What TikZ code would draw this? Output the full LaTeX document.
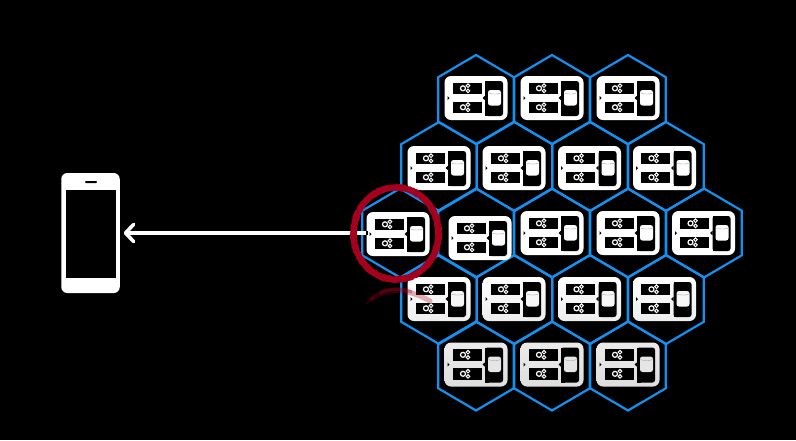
\documentclass[tikz,border=0pt]{standalone}
\usetikzlibrary{arrows.meta,decorations.pathmorphing,shapes.geometric}
\definecolor{hexblue}{RGB}{20,145,240}
\definecolor{ringred}{RGB}{165,0,30}
\tikzset{
  x=1pt,y=-1pt,
  hexcell/.style={draw=hexblue,line width=2.2pt,line join=miter},
  modbody/.style={draw=none,rounded corners=6.5pt,minimum width=63pt,minimum height=44pt,inner sep=0pt,outer sep=0pt},
  slot/.style={fill=black,draw=none},
  gearbig/.style={draw=white,line width=1.2pt,fill=none},
  gearsmall/.style={draw=white,line width=1pt,fill=none},
  flow/.style={draw=white,line width=3.6pt,-{Straight Barb[length=8pt,width=17pt,round]},shorten >=4pt},
  ringedge/.style={draw=ringred,line width=1.6pt,decorate,decoration={random steps,segment length=2pt,amplitude=0.5pt}},
}
\newcommand{\hexat}[2]{%
  \draw[hexcell] (#1,#2-44.5) -- (#1+37.8,#2-22.3) -- (#1+37.8,#2+22.3) -- (#1,#2+44.5) -- (#1-37.8,#2+22.3) -- (#1-37.8,#2-22.3) -- cycle;}
% name, x, y, body style, cylinder colour
\newcommand{\modat}[5]{%
  \node[modbody,#4] (#1) at (#2,#3) {};
  \begin{scope}[shift={(#2,#3)}]
    \fill[slot] (-23.5,-15.5) rectangle (5.5,-4);
    \fill[slot] (-23.5,3.5) rectangle (5.5,15);
    \fill[slot,rounded corners=2.5pt] (9,-17) -- (27,-17) -- (27,18) -- (9,18) -- cycle;
    \fill[slot] (9,-17) rectangle (13,18);
    \fill[slot] (-28.5,-2) -- (-26.5,0) -- (-28.5,2) -- cycle;
    \fill[slot] (9,-2.2) -- (6.5,0) -- (9,2.2) -- cycle;
    \fill[#5,rounded corners=2.5pt] (12,-8) rectangle (25,7.5);
    \draw[black!35,line width=0.4pt] (12.5,-5) .. controls (15,-3.6) and (22,-3.6) .. (24.5,-5);
    \foreach \gy in {-9.7,9.3}{
      \draw[gearbig] (-13,\gy) circle (2.5);
      \draw[gearsmall] (-8,\gy-2.6) circle (1.8);
      \draw[gearsmall] (-8,\gy+2.6) circle (1.8);
    }
  \end{scope}}
\begin{document}
\begin{tikzpicture}
\useasboundingbox (0,0) rectangle (796,440);
\fill[black] (0,0) rectangle (796,440);

% hexagons
\foreach \hx in {476,552,628}{\hexat{\hx}{99.5}}
\foreach \hx in {439,514.5,590,666}{\hexat{\hx}{166.5}}
\foreach \hx in {400,476,552,628,704}{\hexat{\hx}{233}}
\foreach \hx in {439,514.5,590,666}{\hexat{\hx}{299.5}}
\foreach \hx in {476,552,628}{\hexat{\hx}{366}}

% modules
\modat{ma}{476}{98}{fill=white}{white}
\modat{mb}{552}{98}{fill=white}{white}
\modat{mc}{628}{98}{fill=white}{white}
\modat{md}{439}{168}{fill=white}{white}
\modat{me}{514}{168}{fill=white}{white}
\modat{mf}{589.5}{168}{fill=white}{white}
\modat{mg}{664.5}{168}{fill=white}{white}
\modat{source}{398}{234}{fill=white}{white}
\modat{mh}{480}{238}{fill=white}{white}
\modat{mi}{552}{233}{fill=white}{white}
\modat{mj}{628}{233}{fill=white}{white}
\modat{mk}{703.5}{233}{fill=white}{white}
\modat{ml}{439}{299}{top color=white,bottom color=black!7}{black!3}
\modat{mm}{514}{299}{top color=white,bottom color=black!7}{black!3}
\modat{mn}{589.5}{299}{top color=white,bottom color=black!7}{black!3}
\modat{mo}{664.5}{299}{top color=white,bottom color=black!7}{black!3}
\modat{mp}{476}{364.5}{top color=black!8,bottom color=black!13}{black!10}
\modat{mq}{552}{364.5}{top color=black!8,bottom color=black!13}{black!10}
\modat{mr}{628}{364.5}{top color=black!8,bottom color=black!13}{black!10}

% phone
\node[fill=white,rounded corners=6pt,minimum width=58.5pt,minimum height=120pt,inner sep=0pt,outer sep=0pt] (phone) at (90.5,233) {};
\fill[black] (66,189.5) rectangle (115.5,277.5);
\fill[black,rounded corners=0.8pt] (85,181) rectangle (97,183);

% arrow
\draw[flow] (source.west |- phone.east) -- (phone.east);
\draw[black,line width=4pt] (365.5,233) -- (367.5,233);

% ring reflection
\draw[ringred,line width=5pt,opacity=0.30,line cap=round] (372,299) .. controls (385,288) and (405,287) .. (430,301);
\draw[ringred,line width=3.5pt,opacity=0.35] (380,293) .. controls (390,288) and (400,288) .. (412,292);
\draw[ringred,line width=2pt,opacity=0.25] (366,304) -- (374,297);

% ring
\draw[ringred,line width=5.5pt] (396,233.5) ellipse (42.5 and 46);
\draw[ringedge] (396,233.5) ellipse (45 and 48.5);
\draw[ringedge] (396,233.5) ellipse (40 and 43.5);
\draw[white,line width=2.4pt] (358,233) -- (365,233);
\end{tikzpicture}
\end{document}
